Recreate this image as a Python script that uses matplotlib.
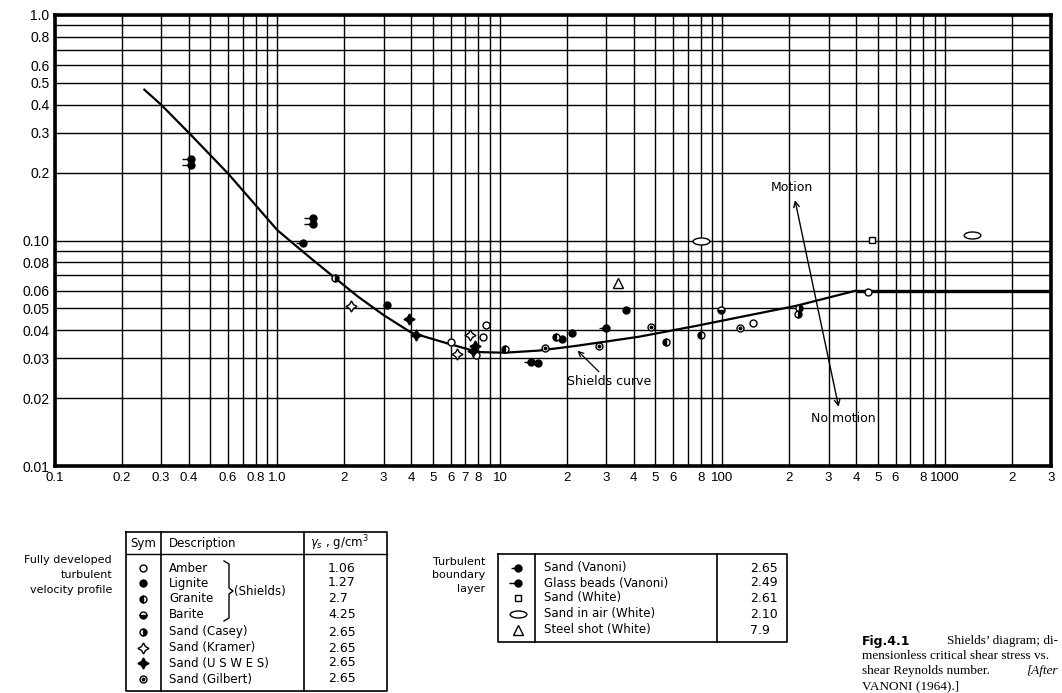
import matplotlib
matplotlib.use('Agg')
import matplotlib.pyplot as plt
from matplotlib.path import Path
from matplotlib.ticker import FixedLocator, FixedFormatter, NullFormatter

# ---------------- data ----------------
x_major = [0.1, 0.2, 0.3, 0.4, 0.6, 0.8, 1, 2, 3, 4, 5, 6, 7, 8, 10, 20, 30, 40, 50, 60, 80,
           100, 200, 300, 400, 500, 600, 800, 1000, 2000, 3000]
x_labels = ['0.1', '0.2', '0.3', '0.4', '0.6', '0.8', '1.0', '2', '3', '4', '5', '6', '7', '8', '10',
            '2', '3', '4', '5', '6', '8', '100', '2', '3', '4', '5', '6', '8', '1000', '2', '3']
x_minor = [0.5, 0.7, 0.9, 9, 70, 90, 700, 900]
y_major = [1.0, 0.8, 0.6, 0.5, 0.4, 0.3, 0.2, 0.1, 0.08, 0.06, 0.05, 0.04, 0.03, 0.02, 0.01]
y_labels = ['1.0', '0.8', '0.6', '0.5', '0.4', '0.3', '0.2', '0.10', '0.08', '0.06', '0.05',
            '0.04', '0.03', '0.02', '0.01']
y_minor = [0.9, 0.7, 0.09, 0.07]

curve_x = [0.25, 0.3, 0.4, 0.6, 1.0, 1.4, 1.82, 2.3, 3.0, 4.0, 5.9, 8.0, 10.5, 15, 22, 42, 77, 216, 400, 3000]
curve_y = [0.47, 0.40, 0.30, 0.198, 0.111, 0.084, 0.068, 0.0564, 0.0467, 0.039, 0.0348, 0.032, 0.0318,
           0.0325, 0.0341, 0.0374, 0.0419, 0.0514, 0.06, 0.06]

amber_x = [6.0, 7.8, 8.4, 8.7, 137, 450]
amber_y = [0.0356, 0.031, 0.0375, 0.042, 0.043, 0.059]
lignite_x = [3.1, 19, 21, 37]
lignite_y = [0.052, 0.0367, 0.0387, 0.049]
granite_x = [10.5, 17.8, 56, 80]
granite_y = [0.033, 0.0375, 0.0356, 0.038]
barite_x = [99]
barite_y = [0.049]
casey_x = [1.82, 220, 218]
casey_y = [0.068, 0.05, 0.047]
kramer_x = [2.15, 6.4, 7.3]
kramer_y = [0.051, 0.0315, 0.038]
uswes_x = [3.9, 4.2, 7.7, 7.6]
uswes_y = [0.045, 0.038, 0.034, 0.0325]
gilbert_x = [16, 28, 48, 120]
gilbert_y = [0.0335, 0.034, 0.0415, 0.041]
vanoni_x = [1.3, 13.8, 14.8, 30]
vanoni_y = [0.097, 0.0288, 0.0285, 0.041]
glass_x = [0.41, 0.41, 1.45, 1.45]
glass_y = [0.23, 0.216, 0.126, 0.118]
white_x = [470]
white_y = [0.101]
air_x = [80, 1330]
air_y = [0.099, 0.106]
steel_x = [34]
steel_y = [0.065]

table1_desc = ['Amber', 'Lignite', 'Granite', 'Barite', 'Sand (Casey)', 'Sand (Kramer)',
               'Sand (U S W E S)', 'Sand (Gilbert)']
table1_val = ['1.06', '1.27', '2.7', '4.25', '2.65', '2.65', '2.65', '2.65']
table2_desc = ['Sand (Vanoni)', 'Glass beads (Vanoni)', 'Sand (White)', 'Sand in air (White)',
               'Steel shot (White)']
table2_val = ['2.65', '2.49', '2.61', '2.10', '7.9']

# ---------------- marker styles ----------------
circ = Path.unit_circle()
tail_short = Path.make_compound_path(circ, Path([[-2.0, 0], [-1.0, 0]], [Path.MOVETO, Path.LINETO]))
tail_long = Path.make_compound_path(circ, Path([[-2.6, 0], [-1.0, 0]], [Path.MOVETO, Path.LINETO]))
ell_v = circ.vertices.copy()
ell_v[:, 1] *= 0.42
ellipse = Path(ell_v, circ.codes)

K = 'black'
styles = {
    'amber': dict(marker='o', ms=5, mfc='white', mec=K, mew=1.0),
    'lignite': dict(marker='o', ms=5, mfc=K, mec=K, mew=1.0),
    'granite': dict(marker='o', ms=5, mfc=K, mec=K, mew=1.0, fillstyle='left', markerfacecoloralt='white'),
    'barite': dict(marker='o', ms=5, mfc=K, mec=K, mew=1.0, fillstyle='bottom', markerfacecoloralt='white'),
    'casey': dict(marker='o', ms=5, mfc=K, mec=K, mew=1.0, fillstyle='right', markerfacecoloralt='white'),
    'kramer': dict(marker=(4, 1, 0), ms=8, mfc='white', mec=K, mew=1.0),
    'uswes': dict(marker=(4, 1, 0), ms=8, mfc=K, mec=K, mew=1.0),
    'gilbert': dict(marker='o', ms=5, mfc='white', mec=K, mew=1.0),
    'vanoni': dict(marker=tail_short, ms=10, mfc=K, mec=K, mew=1.0),
    'glass': dict(marker=tail_long, ms=13, mfc=K, mec=K, mew=1.0),
    'white': dict(marker='s', ms=5, mfc='white', mec=K, mew=1.0),
    'air': dict(marker=ellipse, ms=12, mfc='white', mec=K, mew=1.0),
    'steel': dict(marker='^', ms=6.5, mfc='white', mec=K, mew=1.0),
}

# ---------------- figure ----------------
W, H = 1062, 693
fig = plt.figure(figsize=(W / 100, H / 100), dpi=100)
fig.patch.set_facecolor('white')
L, R, T, B = 55, 1051, 15, 466
ax = fig.add_axes([L / W, 1 - B / H, (R - L) / W, (B - T) / H])
ax.set_xscale('log')
ax.set_yscale('log')
ax.set_xlim(0.1, 3000)
ax.set_ylim(0.01, 1.0)

ax.xaxis.set_major_locator(FixedLocator(x_major))
ax.xaxis.set_major_formatter(FixedFormatter(x_labels))
ax.xaxis.set_minor_locator(FixedLocator(x_minor))
ax.xaxis.set_minor_formatter(NullFormatter())
ax.yaxis.set_major_locator(FixedLocator(y_major))
ax.yaxis.set_major_formatter(FixedFormatter(y_labels))
ax.yaxis.set_minor_locator(FixedLocator(y_minor))
ax.yaxis.set_minor_formatter(NullFormatter())
ax.grid(which='both', color='black', lw=1.0)
ax.set_axisbelow(True)
ax.tick_params(which='both', length=0, pad=4, labelfontfamily='Liberation Sans')
ax.tick_params(axis='x', labelsize=9.5)
ax.tick_params(axis='y', labelsize=10)
for sp in ax.spines.values():
    sp.set_linewidth(2.6)

ax.plot(curve_x[:-1], curve_y[:-1], color=K, lw=1.6, zorder=3, solid_capstyle='butt')
ax.plot(curve_x[-2:], curve_y[-2:], color=K, lw=2.4, zorder=3, solid_capstyle='butt')

series = [('amber', amber_x, amber_y), ('lignite', lignite_x, lignite_y),
          ('granite', granite_x, granite_y), ('barite', barite_x, barite_y),
          ('casey', casey_x, casey_y), ('kramer', kramer_x, kramer_y),
          ('uswes', uswes_x, uswes_y), ('gilbert', gilbert_x, gilbert_y),
          ('vanoni', vanoni_x, vanoni_y), ('glass', glass_x, glass_y),
          ('white', white_x, white_y), ('air', air_x, air_y), ('steel', steel_x, steel_y)]
for name, xs, ys in series:
    ax.plot(xs, ys, ls='none', zorder=4, **styles[name])
ax.plot(gilbert_x, gilbert_y, ls='none', marker='o', ms=1.8, color=K, zorder=5)

ax.annotate('Shields curve', xy=(22.1, 0.0328), xytext=(31, 0.0236), ha='center', va='center',
            fontsize=9, arrowprops=dict(arrowstyle='->', color=K, lw=0.9, shrinkA=1, shrinkB=1))
ax.annotate('', xy=(212, 0.151), xytext=(333, 0.0183),
            arrowprops=dict(arrowstyle='<->', color=K, lw=1.0, shrinkA=0, shrinkB=0))
ax.text(205, 0.172, 'Motion', ha='center', va='center', fontsize=9)
ax.text(350, 0.0162, 'No motion', ha='center', va='center', fontsize=9)

# ---------------- tables & caption (pixel overlay) ----------------
ov = fig.add_axes([0, 0, 1, 1], zorder=-1)
ov.set_xlim(0, W)
ov.set_ylim(H, 0)
ov.axis('off')

def box(x0, x1, y0, y1, lw=1.2):
    ov.plot([x0, x1, x1, x0, x0], [y0, y0, y1, y1, y0], color=K, lw=lw)

fs = 8.5
# left table
box(126, 387, 532, 691)
ov.plot([161, 161], [532, 691], color=K, lw=1.2)
ov.plot([304, 304], [532, 691], color=K, lw=1.2)
ov.plot([126, 387], [554, 554], color=K, lw=1.0)
ov.text(130, 543, 'Sym', ha='left', va='center', fontsize=fs)
ov.text(169, 543, 'Description', ha='left', va='center', fontsize=fs)
ov.text(310, 543, r'$\gamma_s$ , g/cm$^3$', ha='left', va='center', fontsize=fs)
rows1 = [568, 583, 599, 615, 632, 648, 663, 679]
keys1 = ['amber', 'lignite', 'granite', 'barite', 'casey', 'kramer', 'uswes', 'gilbert']
for yy, k, d, v in zip(rows1, keys1, table1_desc, table1_val):
    ov.plot([143], [yy], ls='none', **styles[k])
    if k == 'gilbert':
        ov.plot([143], [yy], ls='none', marker='o', ms=1.8, color=K)
    ov.text(169, yy, d, ha='left', va='center', fontsize=fs)
    ov.text(328, yy, v, ha='left', va='center', fontsize=fs + 0.5)
ov.plot([224, 229, 229, 233, 229, 229, 224], [561, 564, 588, 591, 594, 618, 621], color=K, lw=1.0)
ov.text(234, 591, '(Shields)', ha='left', va='center', fontsize=fs)
for yy, s in zip([560, 575, 590], ['Fully developed', 'turbulent', 'velocity profile']):
    ov.text(112, yy, s, ha='right', va='center', fontsize=8)

# right table
box(498, 787, 554, 642)
ov.plot([535, 535], [554, 642], color=K, lw=1.2)
ov.plot([717, 717], [554, 642], color=K, lw=1.2)
rows2 = [568, 583, 598, 614, 630]
keys2 = ['vanoni', 'glass', 'white', 'air', 'steel']
for yy, k, d, v in zip(rows2, keys2, table2_desc, table2_val):
    ov.plot([518], [yy], ls='none', **styles[k])
    ov.text(544, yy, d, ha='left', va='center', fontsize=fs)
    ov.text(750, yy, v, ha='left', va='center', fontsize=fs + 0.5)
for yy, s in zip([562, 575, 589], ['Turbulent', 'boundary', 'layer']):
    ov.text(485, yy, s, ha='right', va='center', fontsize=8)

# caption
cf = dict(family='Liberation Serif', fontsize=9.5, va='center')
ov.text(862, 641, 'Fig.4.1', ha='left', va='center', fontsize=9, fontweight='bold', family='DejaVu Sans')
ov.text(1058, 641, 'Shields\u2019 diagram; di-', ha='right', **cf)
ov.text(862, 656, 'mensionless critical shear stress vs.', ha='left', **cf)
ov.text(862, 671, 'shear Reynolds number.', ha='left', **cf)
ov.text(1058, 671, '[After', ha='right', style='italic', **cf)
ov.text(862, 686, 'VANONI (1964).]', ha='left', **cf)

fig.savefig('out.png', dpi=100, facecolor='white')
